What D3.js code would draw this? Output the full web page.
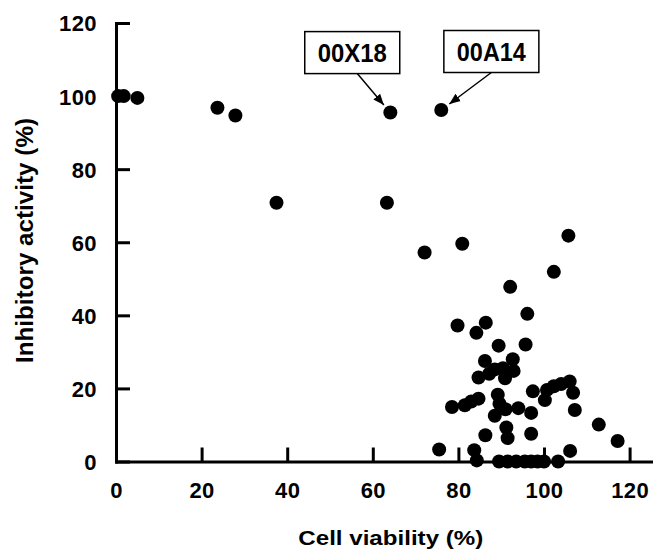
<!DOCTYPE html>
<html>
<head>
<meta charset="utf-8">
<script src="https://cdn.jsdelivr.net/npm/d3@7"></script>
<style>
  body { margin: 0; background: #fff; }
  text { font-family: "Liberation Sans", Arial, sans-serif; font-weight: bold; }
</style>
</head>
<body>
<svg width="654" height="551"></svg>
<script>
// data
const viability = [0.5, 1.8, 5.0, 23.7, 27.9, 37.5, 63.3, 64.1, 76.0, 72.1, 80.9, 105.7, 102.3,
  92.1, 96.1, 79.8, 86.4, 84.2, 89.4, 95.7, 86.2, 92.7, 88.5, 90.4, 92.9, 87.2, 90.9, 84.7,
  97.4, 100.7, 102.3, 104.0, 106.0, 106.8, 100.2, 89.2, 89.6, 78.5, 81.5, 83.0, 84.7, 91.0,
  94.0, 97.0, 107.2, 88.5, 91.2, 91.5, 86.3, 97.0, 112.8, 117.2, 75.5, 83.7, 106.1, 84.3,
  89.5, 91.5, 93.5, 95.5, 97.0, 98.5, 100.0, 103.3];
const inhibition = [100, 100, 99.5, 96.8, 94.7, 70.8, 70.8, 95.5, 96.2, 57.2, 59.6, 61.8, 51.9,
  47.8, 40.4, 37.2, 38.0, 35.2, 31.7, 32.0, 27.5, 28.0, 25.2, 25.5, 24.8, 24.0, 22.8, 23.0,
  19.2, 19.6, 20.6, 21.2, 21.9, 18.8, 16.8, 18.3, 15.8, 14.9, 15.4, 16.4, 17.2, 14.3,
  14.6, 13.3, 14.1, 12.5, 9.3, 6.4, 7.2, 7.6, 10.1, 5.6, 3.3, 3.1, 2.9, 0.3,
  0, 0, 0, 0, 0, 0, 0, 0];

const xTicks = [0, 20, 40, 60, 80, 100, 120];
const yTicks = [0, 20, 40, 60, 80, 100, 120];

// labelled compounds: label, index of the point, box centre in data units
const annoLabels = ["00X18", "00A14"];
const annoPoint = [7, 8];
const annoBoxX = [55.2, 87.7];
const annoBoxY = [111.9, 112.2];

let svg = d3.select("svg");

let x = d3.scaleLinear().domain([0, 125]).range([116, 651]);
let y = d3.scaleLinear().domain([0, 120]).range([461.5, 23]);

// arrow head
svg.append("defs").append("marker")
  .attr("id", "arrow")
  .attr("viewBox", "0 0 10 10")
  .attr("refX", 10).attr("refY", 5)
  .attr("markerWidth", 11).attr("markerHeight", 11)
  .attr("markerUnits", "userSpaceOnUse")
  .attr("orient", "auto")
  .append("path")
  .attr("d", "M0,1 L10,5 L0,9 Z")
  .attr("fill", "#000");

// axes
let xAxis = svg.append("g")
  .attr("transform", "translate(0," + y(0) + ")")
  .call(d3.axisBottom(x).tickValues(xTicks).tickSizeInner(-14).tickSizeOuter(0).tickPadding(21));

let yAxis = svg.append("g")
  .attr("transform", "translate(" + x(0) + ",0)")
  .call(d3.axisLeft(y).tickValues(yTicks).tickSizeInner(-14).tickSizeOuter(0).tickPadding(19));

[xAxis, yAxis].forEach(g => {
  g.select(".domain").attr("stroke", "#000").attr("stroke-width", 3).attr("stroke-linecap", "square");
  g.selectAll(".tick line").attr("stroke", "#000").attr("stroke-width", 3);
  g.selectAll(".tick text")
    .attr("fill", "#000")
    .style("font-size", "22px")
    .style("letter-spacing", "0.4px")
    .style("font-family", "'Liberation Sans', Arial, sans-serif")
    .style("font-weight", "bold");
});
yAxis.selectAll(".tick text").attr("dy", "0.36em");

// axis titles
svg.append("text")
  .attr("x", 390.8).attr("y", 545)
  .attr("text-anchor", "middle")
  .attr("textLength", 185).attr("lengthAdjust", "spacingAndGlyphs")
  .style("font-size", "21px")
  .text("Cell viability (%)");

svg.append("text")
  .attr("transform", "translate(33,240.5) rotate(-90)")
  .attr("text-anchor", "middle")
  .attr("textLength", 245).attr("lengthAdjust", "spacingAndGlyphs")
  .style("font-size", "23px")
  .text("Inhibitory activity (%)");

// points
svg.append("g")
  .selectAll("circle")
  .data(viability)
  .enter()
  .append("circle")
  .attr("cx", d => x(d))
  .attr("cy", (d, i) => y(inhibition[i]))
  .attr("r", 7)
  .attr("fill", "#000");

// annotations
const boxW = 95, boxH = 42;
annoLabels.forEach((lab, i) => {
  let cx = x(annoBoxX[i]), cy = y(annoBoxY[i]);
  let px = x(viability[annoPoint[i]]), py = y(inhibition[annoPoint[i]]);
  let sx = cx + (px > cx + 20 ? 5 : 0), sy = cy + boxH / 2;
  let dx = px - sx, dy = py - sy, len = Math.sqrt(dx * dx + dy * dy);
  let gap = 10;
  svg.append("line")
    .attr("x1", sx).attr("y1", sy)
    .attr("x2", px - dx / len * gap).attr("y2", py - dy / len * gap)
    .attr("stroke", "#000").attr("stroke-width", 1.5)
    .attr("marker-end", "url(#arrow)");
  svg.append("rect")
    .attr("x", cx - boxW / 2).attr("y", cy - boxH / 2)
    .attr("width", boxW).attr("height", boxH)
    .attr("fill", "#fff").attr("stroke", "#000").attr("stroke-width", 1.5);
  svg.append("text")
    .attr("x", cx).attr("y", cy)
    .attr("dy", "0.36em")
    .attr("text-anchor", "middle")
    .attr("textLength", 69).attr("lengthAdjust", "spacingAndGlyphs")
    .style("font-size", "26px")
    .text(lab);
});
</script>
</body>
</html>
